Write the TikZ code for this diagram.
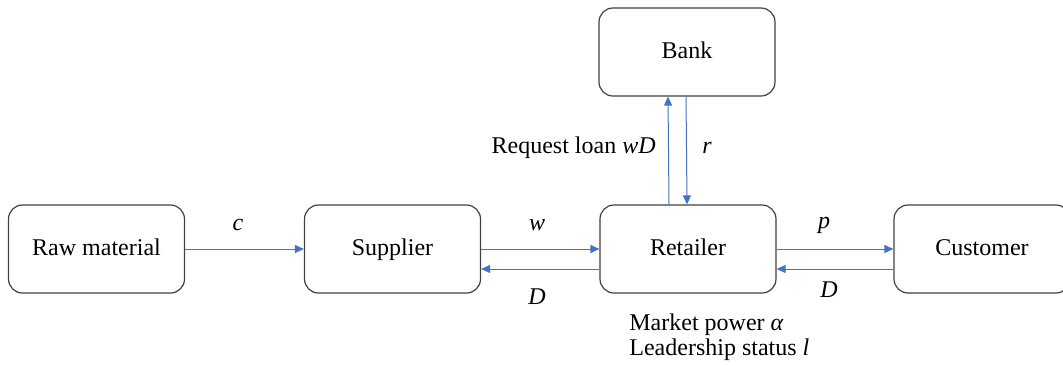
\documentclass[tikz,border=0pt]{standalone}
\usepackage{fontspec}
\setmainfont{Liberation Serif}
\usetikzlibrary{arrows.meta}
\definecolor{flowblue}{HTML}{4472C4}
\definecolor{boxgray}{HTML}{404040}
\tikzset{
  stage/.style={draw=boxgray, line width=0.6pt, rounded corners=7pt,
    minimum width=88pt, minimum height=44pt, inner sep=0pt,
    text height=8.5pt, text depth=2.5pt,
    font=\fontsize{12pt}{14pt}\selectfont},
  flow/.style={draw=flowblue, line width=0.5pt,
    -{Triangle[length=4.5pt,width=4pt]}},
  tag/.style={inner sep=0pt, font=\fontsize{12pt}{14pt}\selectfont},
}
\begin{document}
\begin{tikzpicture}[x=0.5pt, y=-0.5pt]
  \useasboundingbox (0,0) rectangle (1063,365);

  % chain members
  \node[stage] (raw)  at (96.5,249) {Raw material};
  \node[stage] (sup)  at (392.5,249) {Supplier};
  \node[stage] (ret)  at (688,249) {Retailer};
  \node[stage] (cus)  at (982,249) {Customer};
  \node[stage] (bank) at (687,52) {Bank};

  % material and price flows
  \draw[flow] (raw.east) -- (sup.west);
  \draw[flow] (sup.east) -- (ret.west);
  \draw[flow] ([yshift=-10pt]ret.west) -- ([yshift=-10pt]sup.east);
  \draw[flow] (ret.east) -- (cus.west);
  \draw[flow] ([yshift=-10pt]cus.west) -- ([yshift=-10pt]ret.east);

  % financing link
  \draw[flow] ([xshift=-9.5pt]ret.north) -- ([xshift=-9.5pt]bank.south);
  \draw[flow] ([xshift=-0.5pt]bank.south) -- ([xshift=-0.5pt]ret.north);

  % labels
  \node[tag] (lc) at (238,225) {\textit{c}};
  \node[tag] (lw) at (537,225) {\textit{w}};
  \node[tag] (lD1) at (537,297) {\textit{D}};
  \node[tag] (lp) at (824,225) {\textit{p}};
  \node[tag] (lD2) at (829,290) {\textit{D}};
  \node[tag] (lr) at (707,148) {\textit{r}};
  \node[tag, anchor=east] (loan) at (656,148) {Request loan \textit{wD}};
  \node[tag, anchor=west] (mp) at (629,325) {Market power \textit{α}};
  \node[tag, anchor=west] (ls) at (629,350) {Leadership status \textit{l}};
\end{tikzpicture}
\end{document}
